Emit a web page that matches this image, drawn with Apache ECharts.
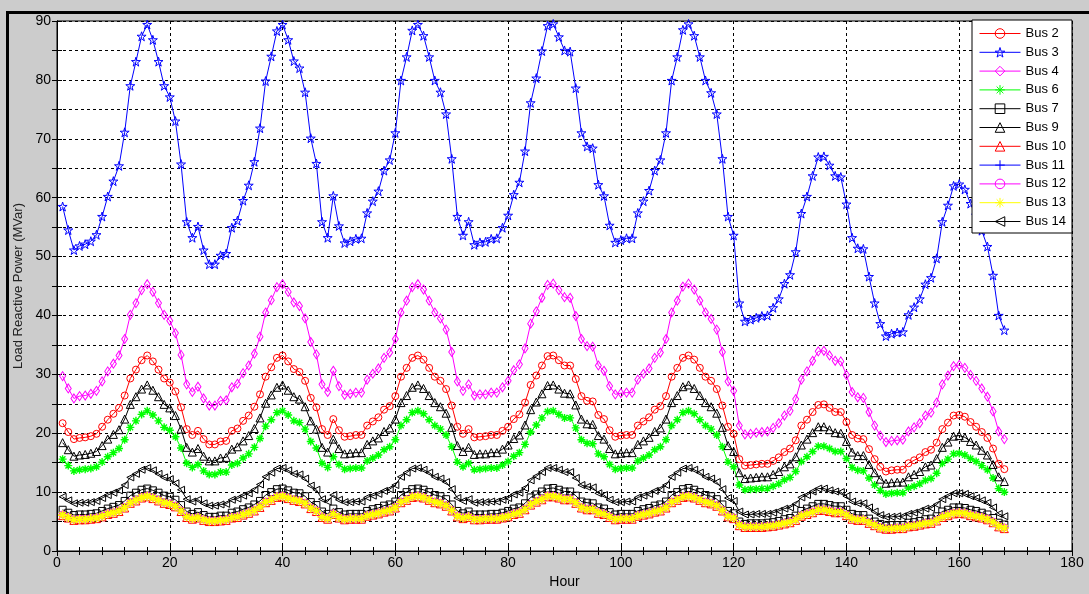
<!DOCTYPE html>
<html>
<head>
<meta charset="utf-8">
<script src="https://cdn.jsdelivr.net/npm/echarts@6/dist/echarts.min.js"></script>
<style>
html,body{margin:0;padding:0;background:#cccccc;}
#chart{width:1089px;height:594px;}
</style>
</head>
<body>
<div id="chart"></div>
<script>
// ---- data (MVar), hourly values for hours 1..168 ----
const xTicks = [0, 20, 40, 60, 80, 100, 120, 140, 160, 180];
const seriesNames = ['Bus 2','Bus 3','Bus 4','Bus 6','Bus 7','Bus 9','Bus 10','Bus 11','Bus 12','Bus 13','Bus 14'];

const bus2 = [
21.7,20.2,19.0,19.2,19.3,19.5,19.9,21.1,22.3,23.3,24.3,26.4,29.3,30.8,32.4,33.2,32.2,30.8,29.3,28.6,27.1,24.4,20.7,19.7,
20.4,19.0,18.1,18.1,18.6,18.7,20.4,20.8,22.1,23.0,24.5,26.6,29.6,31.2,32.8,33.2,32.2,30.9,30.4,28.9,26.0,24.4,20.7,19.7,
22.4,20.5,19.4,19.5,19.7,19.7,21.3,22.0,22.7,24.0,24.6,26.3,29.6,31.1,32.8,33.2,32.5,31.1,29.6,28.9,27.5,24.7,21.1,19.9,
20.7,19.3,19.4,19.5,19.7,19.7,20.4,21.1,22.4,23.2,25.2,28.2,29.8,31.5,33.1,33.2,32.4,31.5,31.5,29.2,26.3,25.5,25.4,23.1,
22.4,20.5,19.4,19.6,19.7,19.7,21.3,22.0,22.7,24.0,24.6,26.3,29.6,31.1,32.8,33.2,32.5,31.1,29.6,28.9,27.5,24.7,21.1,19.9,
15.6,14.5,14.6,14.7,14.8,14.8,15.3,15.9,16.8,17.4,18.8,21.3,22.3,23.6,24.8,24.9,24.3,23.6,23.6,21.9,19.7,19.1,19.0,17.3,
15.6,14.3,13.5,13.7,13.8,13.8,14.9,15.4,15.9,16.8,17.2,18.4,20.7,21.8,23.0,23.1,22.8,21.9,21.1,20.2,19.2,17.4,14.8,13.9];

const bus3 = [
58.5,54.5,51.1,51.8,52.1,52.6,53.7,56.8,60.2,62.8,65.4,71.1,79.0,83.1,87.4,89.4,86.8,83.1,79.0,77.1,73.0,65.7,55.9,53.2,
55.1,51.1,48.7,48.7,50.2,50.5,54.9,56.1,59.5,62.1,66.1,71.8,79.8,84.0,88.3,89.4,86.8,83.2,82.0,77.9,70.1,65.8,55.9,53.2,
60.3,55.2,52.3,52.6,53.0,53.1,57.4,59.4,61.1,64.6,66.4,71.0,79.9,83.9,88.4,89.4,87.5,83.9,79.9,77.9,74.2,66.6,56.8,53.6,
55.9,52.0,52.4,52.5,53.0,53.1,54.9,57.0,60.5,62.6,67.9,76.1,80.3,84.9,89.2,89.5,87.3,85.0,84.8,78.6,71.0,68.7,68.4,62.2,
60.3,55.3,52.4,52.8,53.1,53.1,57.4,59.4,61.2,64.6,66.4,71.0,79.9,83.9,88.5,89.5,87.5,83.9,79.9,77.8,74.2,66.6,56.8,53.6,
42.1,39.0,39.3,39.6,39.9,40.0,41.3,42.8,45.4,46.9,50.8,57.3,60.2,63.7,66.9,67.0,65.5,63.7,63.5,58.9,53.2,51.4,51.3,46.6,
42.1,38.6,36.5,36.9,37.1,37.2,40.1,41.4,42.8,45.3,46.4,49.7,55.9,58.7,62.0,62.3,61.4,59.0,57.0,54.4,51.7,46.8,40.0,37.5];

const bus4 = [
29.7,27.6,25.9,26.3,26.4,26.7,27.2,28.8,30.5,31.8,33.2,36.0,40.1,42.1,44.3,45.3,44.0,42.1,40.1,39.1,37.0,33.3,28.3,27.0,
27.9,25.9,24.7,24.7,25.5,25.6,27.8,28.4,30.2,31.5,33.5,36.4,40.5,42.6,44.8,45.3,44.0,42.2,41.6,39.5,35.5,33.4,28.3,27.0,
30.6,28.0,26.5,26.7,26.9,26.9,29.1,30.1,31.0,32.8,33.7,36.0,40.5,42.5,44.8,45.3,44.4,42.5,40.5,39.5,37.6,33.8,28.8,27.2,
28.3,26.4,26.6,26.6,26.9,26.9,27.8,28.9,30.7,31.7,34.4,38.6,40.7,43.0,45.2,45.4,44.3,43.1,43.0,39.9,36.0,34.8,34.7,31.5,
30.6,28.0,26.6,26.8,26.9,26.9,29.1,30.1,31.0,32.8,33.7,36.0,40.5,42.5,44.9,45.4,44.4,42.5,40.5,39.4,37.6,33.8,28.8,27.2,
21.3,19.8,19.9,20.1,20.2,20.3,20.9,21.7,23.0,23.8,25.8,29.1,30.5,32.3,33.9,34.0,33.2,32.3,32.2,29.9,27.0,26.1,26.0,23.6,
21.3,19.6,18.5,18.7,18.8,18.9,20.3,21.0,21.7,23.0,23.5,25.2,28.3,29.8,31.4,31.6,31.1,29.9,28.9,27.6,26.2,23.7,20.3,19.0];

const bus6 = [
15.6,14.5,13.6,13.8,13.9,14.0,14.3,15.1,16.0,16.7,17.4,18.9,21.0,22.1,23.2,23.8,23.1,22.1,21.0,20.5,19.4,17.5,14.9,14.2,
14.7,13.6,13.0,13.0,13.4,13.4,14.6,14.9,15.8,16.5,17.6,19.1,21.2,22.3,23.5,23.8,23.1,22.1,21.8,20.7,18.6,17.5,14.9,14.2,
16.0,14.7,13.9,14.0,14.1,14.1,15.3,15.8,16.3,17.2,17.7,18.9,21.3,22.3,23.5,23.8,23.3,22.3,21.3,20.7,19.7,17.7,15.1,14.3,
14.9,13.8,13.9,14.0,14.1,14.1,14.6,15.2,16.1,16.7,18.1,20.2,21.4,22.6,23.7,23.8,23.2,22.6,22.6,20.9,18.9,18.3,18.2,16.5,
16.0,14.7,13.9,14.0,14.1,14.1,15.3,15.8,16.3,17.2,17.7,18.9,21.3,22.3,23.5,23.8,23.3,22.3,21.3,20.7,19.7,17.7,15.1,14.3,
11.2,10.4,10.5,10.5,10.6,10.6,11.0,11.4,12.1,12.5,13.5,15.2,16.0,16.9,17.8,17.8,17.4,16.9,16.9,15.7,14.2,13.7,13.6,12.4,
11.2,10.3,9.7,9.8,9.9,9.9,10.7,11.0,11.4,12.0,12.3,13.2,14.9,15.6,16.5,16.6,16.3,15.7,15.2,14.5,13.8,12.4,10.6,10.0];

const bus7 = [
7.0,6.5,6.1,6.2,6.2,6.3,6.4,6.8,7.2,7.5,7.8,8.5,9.4,9.9,10.4,10.6,10.3,9.9,9.4,9.2,8.7,7.8,6.7,6.3,
6.6,6.1,5.8,5.8,6.0,6.0,6.5,6.7,7.1,7.4,7.9,8.5,9.5,10.0,10.5,10.6,10.3,9.9,9.8,9.3,8.3,7.8,6.7,6.3,
7.2,6.6,6.2,6.3,6.3,6.3,6.8,7.1,7.3,7.7,7.9,8.4,9.5,10.0,10.5,10.6,10.4,10.0,9.5,9.3,8.8,7.9,6.8,6.4,
6.7,6.2,6.2,6.2,6.3,6.3,6.5,6.8,7.2,7.4,8.1,9.1,9.6,10.1,10.6,10.7,10.4,10.1,10.1,9.4,8.4,8.2,8.1,7.4,
7.2,6.6,6.2,6.3,6.3,6.3,6.8,7.1,7.3,7.7,7.9,8.4,9.5,10.0,10.5,10.7,10.4,10.0,9.5,9.3,8.8,7.9,6.8,6.4,
5.0,4.6,4.7,4.7,4.7,4.8,4.9,5.1,5.4,5.6,6.0,6.8,7.2,7.6,8.0,8.0,7.8,7.6,7.6,7.0,6.3,6.1,6.1,5.5,
5.0,4.6,4.3,4.4,4.4,4.4,4.8,4.9,5.1,5.4,5.5,5.9,6.7,7.0,7.4,7.4,7.3,7.0,6.8,6.5,6.2,5.6,4.8,4.5];

const bus9 = [
18.4,17.2,16.1,16.3,16.4,16.6,16.9,17.9,19.0,19.8,20.6,22.4,24.9,26.2,27.5,28.2,27.3,26.2,24.9,24.3,23.0,20.7,17.6,16.8,
17.4,16.1,15.3,15.3,15.8,15.9,17.3,17.7,18.7,19.6,20.8,22.6,25.1,26.5,27.8,28.2,27.3,26.2,25.8,24.5,22.1,20.7,17.6,16.8,
19.0,17.4,16.5,16.6,16.7,16.7,18.1,18.7,19.2,20.3,20.9,22.4,25.2,26.4,27.8,28.2,27.6,26.4,25.2,24.5,23.4,21.0,17.9,16.9,
17.6,16.4,16.5,16.5,16.7,16.7,17.3,18.0,19.1,19.7,21.4,24.0,25.3,26.7,28.1,28.2,27.5,26.8,26.7,24.8,22.4,21.6,21.5,19.6,
19.0,17.4,16.5,16.6,16.7,16.7,18.1,18.7,19.3,20.3,20.9,22.4,25.2,26.4,27.9,28.2,27.6,26.4,25.2,24.5,23.4,21.0,17.9,16.9,
13.3,12.3,12.4,12.5,12.6,12.6,13.0,13.5,14.3,14.8,16.0,18.0,19.0,20.1,21.1,21.1,20.6,20.1,20.0,18.6,16.8,16.2,16.2,14.7,
13.3,12.2,11.5,11.6,11.7,11.7,12.6,13.0,13.5,14.3,14.6,15.7,17.6,18.5,19.5,19.6,19.3,18.6,18.0,17.1,16.3,14.7,12.6,11.8];

const bus10 = [
6.0,5.6,5.2,5.3,5.3,5.4,5.5,5.8,6.2,6.4,6.7,7.3,8.1,8.5,9.0,9.2,8.9,8.5,8.1,7.9,7.5,6.7,5.7,5.4,
5.6,5.2,5.0,5.0,5.1,5.2,5.6,5.7,6.1,6.4,6.8,7.4,8.2,8.6,9.1,9.2,8.9,8.6,8.4,8.0,7.2,6.7,5.7,5.4,
6.2,5.6,5.3,5.4,5.4,5.4,5.9,6.1,6.3,6.6,6.8,7.3,8.2,8.6,9.1,9.2,9.0,8.6,8.2,8.0,7.6,6.8,5.8,5.5,
5.7,5.3,5.3,5.4,5.4,5.4,5.6,5.8,6.2,6.4,7.0,7.8,8.3,8.7,9.2,9.2,9.0,8.7,8.7,8.1,7.3,7.0,7.0,6.4,
6.2,5.7,5.3,5.4,5.4,5.4,5.9,6.1,6.3,6.6,6.8,7.3,8.2,8.6,9.1,9.2,9.0,8.6,8.2,8.0,7.6,6.8,5.8,5.5,
4.3,4.0,4.0,4.0,4.0,4.1,4.2,4.4,4.6,4.8,5.2,5.9,6.2,6.5,6.9,6.9,6.7,6.5,6.5,6.0,5.4,5.2,5.2,4.7,
4.3,3.9,3.7,3.7,3.8,3.8,4.1,4.2,4.4,4.6,4.7,5.1,5.7,6.0,6.3,6.4,6.3,6.0,5.8,5.6,5.3,4.8,4.1,3.8];

const bus11 = [
6.1,5.7,5.3,5.4,5.4,5.5,5.6,5.9,6.3,6.5,6.8,7.4,8.2,8.6,9.1,9.3,9.0,8.6,8.2,8.0,7.6,6.8,5.8,5.5,
5.7,5.3,5.1,5.1,5.2,5.3,5.7,5.8,6.2,6.5,6.9,7.5,8.3,8.7,9.2,9.3,9.0,8.7,8.5,8.1,7.3,6.8,5.8,5.5,
6.3,5.7,5.4,5.5,5.5,5.5,6.0,6.2,6.4,6.7,6.9,7.4,8.3,8.7,9.2,9.3,9.1,8.7,8.3,8.1,7.7,6.9,5.9,5.6,
5.8,5.4,5.4,5.5,5.5,5.5,5.7,5.9,6.3,6.5,7.1,7.9,8.4,8.8,9.3,9.3,9.1,8.8,8.8,8.2,7.4,7.1,7.1,6.5,
6.3,5.8,5.4,5.5,5.5,5.5,6.0,6.2,6.4,6.7,6.9,7.4,8.3,8.7,9.2,9.3,9.1,8.7,8.3,8.1,7.7,6.9,5.9,5.6,
4.4,4.1,4.1,4.1,4.1,4.2,4.3,4.5,4.7,4.9,5.3,6.0,6.3,6.6,7.0,7.0,6.8,6.6,6.6,6.1,5.5,5.3,5.3,4.8,
4.4,4.0,3.8,3.8,3.9,3.9,4.2,4.3,4.5,4.7,4.8,5.2,5.8,6.1,6.4,6.5,6.4,6.1,5.9,5.7,5.4,4.9,4.2,3.9];

const bus12 = [
6.2,5.8,5.4,5.5,5.5,5.6,5.7,6.0,6.4,6.6,6.9,7.5,8.3,8.7,9.2,9.4,9.1,8.7,8.3,8.1,7.7,6.9,5.9,5.6,
5.8,5.4,5.2,5.2,5.3,5.4,5.8,5.9,6.3,6.6,7.0,7.6,8.4,8.8,9.3,9.4,9.1,8.8,8.6,8.2,7.4,6.9,5.9,5.6,
6.4,5.8,5.5,5.6,5.6,5.6,6.1,6.3,6.5,6.8,7.0,7.5,8.4,8.8,9.3,9.4,9.2,8.8,8.4,8.2,7.8,7.0,6.0,5.7,
5.9,5.5,5.5,5.6,5.6,5.6,5.8,6.0,6.4,6.6,7.2,8.0,8.5,8.9,9.4,9.4,9.2,8.9,8.9,8.3,7.5,7.2,7.2,6.6,
6.4,5.9,5.5,5.6,5.6,5.6,6.1,6.3,6.5,6.8,7.0,7.5,8.4,8.8,9.3,9.4,9.2,8.8,8.4,8.2,7.8,7.0,6.0,5.7,
4.5,4.2,4.2,4.2,4.2,4.3,4.4,4.6,4.8,5.0,5.4,6.1,6.4,6.7,7.1,7.1,6.9,6.7,6.7,6.2,5.6,5.4,5.4,4.9,
4.5,4.1,3.9,3.9,4.0,4.0,4.3,4.4,4.6,4.8,4.9,5.3,5.9,6.2,6.5,6.6,6.5,6.2,6.0,5.8,5.5,5.0,4.3,4.0];

const bus13 = [
6.1,5.7,5.3,5.4,5.4,5.5,5.6,5.9,6.3,6.5,6.8,7.4,8.2,8.6,9.1,9.3,9.0,8.6,8.2,8.0,7.6,6.8,5.8,5.5,
5.7,5.3,5.1,5.1,5.2,5.3,5.7,5.8,6.2,6.5,6.9,7.5,8.3,8.7,9.2,9.3,9.0,8.7,8.5,8.1,7.3,6.8,5.8,5.5,
6.3,5.7,5.4,5.5,5.5,5.5,6.0,6.2,6.4,6.7,6.9,7.4,8.3,8.7,9.2,9.3,9.1,8.7,8.3,8.1,7.7,6.9,5.9,5.6,
5.8,5.4,5.4,5.5,5.5,5.5,5.7,5.9,6.3,6.5,7.1,7.9,8.4,8.8,9.3,9.3,9.1,8.8,8.8,8.2,7.4,7.1,7.1,6.5,
6.3,5.8,5.4,5.5,5.5,5.5,6.0,6.2,6.4,6.7,6.9,7.4,8.3,8.7,9.2,9.3,9.1,8.7,8.3,8.1,7.7,6.9,5.9,5.6,
4.4,4.1,4.1,4.1,4.1,4.2,4.3,4.5,4.7,4.9,5.3,6.0,6.3,6.6,7.0,7.0,6.8,6.6,6.6,6.1,5.5,5.3,5.3,4.8,
4.4,4.0,3.8,3.8,3.9,3.9,4.2,4.3,4.5,4.7,4.8,5.2,5.8,6.1,6.4,6.5,6.4,6.1,5.9,5.7,5.4,4.9,4.2,3.9];

const bus14 = [
9.2,8.6,8.1,8.2,8.2,8.3,8.5,9.0,9.5,9.9,10.3,11.2,12.5,13.1,13.8,14.1,13.7,13.1,12.5,12.2,11.5,10.4,8.8,8.4,
8.7,8.1,7.7,7.7,7.9,8.0,8.7,8.9,9.4,9.8,10.4,11.3,12.6,13.3,14.0,14.1,13.7,13.1,13.0,12.3,11.1,10.4,8.8,8.4,
9.5,8.7,8.3,8.3,8.4,8.4,9.1,9.4,9.7,10.2,10.5,11.2,12.6,13.3,14.0,14.1,13.8,13.3,12.6,12.3,11.7,10.5,9.0,8.5,
8.8,8.2,8.3,8.3,8.4,8.4,8.7,9.0,9.6,9.9,10.7,12.0,12.7,13.4,14.1,14.1,13.8,13.4,13.4,12.4,11.2,10.9,10.8,9.8,
9.5,8.7,8.3,8.3,8.4,8.4,9.1,9.4,9.7,10.2,10.5,11.2,12.6,13.3,14.0,14.1,13.8,13.3,12.6,12.3,11.7,10.5,9.0,8.5,
6.7,6.2,6.2,6.3,6.3,6.3,6.5,6.8,7.2,7.4,8.0,9.1,9.5,10.1,10.6,10.6,10.3,10.1,10.0,9.3,8.4,8.1,8.1,7.4,
6.7,6.1,5.8,5.8,5.9,5.9,6.3,6.5,6.8,7.2,7.3,7.9,8.8,9.3,9.8,9.8,9.7,9.3,9.0,8.6,8.2,7.4,6.3,5.9];

// ---- presentation ----
const SYM = {
  star: 'path://M50,0L61.2,34.5L97.6,34.5L68.2,55.9L79.4,90.5L50,69.1L20.6,90.5L31.8,55.9L2.4,34.5L38.8,34.5Z',
  asterisk: 'path://M5,0L5,10M0,5L10,5M1.5,1.5L8.5,8.5M8.5,1.5L1.5,8.5',
  plus: 'path://M5,0L5,10M0,5L10,5',
  triLeft: 'path://M0,5L10,0L10,10Z'
};
const styles = [
  {d: bus2,  c: '#ff0000', s: 'circle',      z: 7,     w: 1},
  {d: bus3,  c: '#0000ff', s: SYM.star,      z: 9,     w: 1},
  {d: bus4,  c: '#ff00ff', s: 'diamond',     z: [6,9], w: 1},
  {d: bus6,  c: '#00ff00', s: SYM.asterisk,  z: 8,     w: 1.4},
  {d: bus7,  c: '#000000', s: 'rect',        z: 7,     w: 1},
  {d: bus9,  c: '#000000', s: 'triangle',    z: 8,     w: 1},
  {d: bus10, c: '#ff0000', s: 'triangle',    z: 8,     w: 1},
  {d: bus11, c: '#0000ff', s: SYM.plus,      z: 8,     w: 1},
  {d: bus12, c: '#ff00ff', s: 'circle',      z: 7,     w: 1},
  {d: bus13, c: '#ffff00', s: SYM.asterisk,  z: 9,     w: 1.6},
  {d: bus14, c: '#000000', s: SYM.triLeft,   z: 7,     w: 1}
];
const CLEAR = 'rgba(255,255,255,0)';

const series = styles.map((st, i) => ({
  name: seriesNames[i],
  type: 'line',
  data: st.d.map((v, k) => [k + 1, v]),
  symbol: st.s,
  symbolSize: st.z,
  showSymbol: true,
  clip: true,
  lineStyle: {color: st.c, width: 1},
  itemStyle: {color: CLEAR, borderColor: st.c, borderWidth: st.w},
  emphasis: {disabled: true},
  animation: false
}));

const legendData = styles.map((st, i) => ({
  name: seriesNames[i],
  itemStyle: {color: CLEAR, borderColor: st.c, borderWidth: 1},
  lineStyle: {color: st.c, width: 1}
}));

const FONT = 'Liberation Sans, Arial, sans-serif';
const chart = echarts.init(document.getElementById('chart'), null, {renderer: 'canvas'});
chart.setOption({
  backgroundColor: '#cccccc',
  animation: false,
  graphic: [{
    type: 'rect', left: 5, top: 10, silent: true, z: -10,
    shape: {width: 1200, height: 700},
    style: {fill: 'none', stroke: '#000', lineWidth: 3}
  }],
  grid: {left: 57, top: 21, right: 17, bottom: 36, show: true,
         backgroundColor: '#ffffff', borderColor: '#000', borderWidth: 1},
  legend: {
    orient: 'vertical', left: 972, top: 20,
    backgroundColor: '#ffffff', borderColor: '#000', borderWidth: 1,
    padding: [7, 6, 5, 7],
    itemWidth: 41, itemHeight: 12, itemGap: 5.8,
    textStyle: {fontFamily: FONT, fontSize: 13, color: '#000'},
    data: legendData
  },
  xAxis: [{
    type: 'value', min: 0, max: 180, interval: 20,
    name: 'Hour', nameLocation: 'middle', nameGap: 24,
    nameTextStyle: {fontFamily: FONT, fontSize: 14, color: '#000'},
    axisLine: {show: true, lineStyle: {color: '#000'}},
    axisTick: {show: true, inside: true, length: 5, lineStyle: {color: '#000'}},
    minorTick: {show: true, splitNumber: 5, length: 4, lineStyle: {color: '#000'}},
    axisLabel: {fontFamily: FONT, fontSize: 14, color: '#000', margin: 5},
    splitLine: {show: true, lineStyle: {color: '#000', type: [3, 3], width: 1}}
  }, {
    type: 'value', min: 0, max: 180, interval: 20, position: 'top',
    axisLine: {show: true, lineStyle: {color: '#000'}},
    axisTick: {show: true, inside: true, length: 5, lineStyle: {color: '#000'}},
    minorTick: {show: true, splitNumber: 5, length: 4, lineStyle: {color: '#000'}},
    axisLabel: {show: false}, splitLine: {show: false}
  }],
  yAxis: [{
    type: 'value', min: 0, max: 90, interval: 5,
    name: 'Load Reactive Power (MVar)', nameLocation: 'middle', nameGap: 24, nameRotate: 90,
    nameTextStyle: {fontFamily: FONT, fontSize: 13, color: '#222'},
    axisLine: {show: true, lineStyle: {color: '#000'}},
    axisTick: {show: true, inside: true, length: 5, lineStyle: {color: '#000'}},
    axisLabel: {fontFamily: FONT, fontSize: 14, color: '#000', margin: 6,
                formatter: v => (v % 10 === 0 ? String(v) : '')},
    splitLine: {show: true, lineStyle: {color: '#000', type: [3, 3], width: 1}}
  }, {
    type: 'value', min: 0, max: 90, interval: 5, position: 'right',
    axisLine: {show: true, lineStyle: {color: '#000'}},
    axisTick: {show: true, inside: true, length: 5, lineStyle: {color: '#000'}},
    axisLabel: {show: false}, splitLine: {show: false}
  }],
  series: series
});
</script>
</body>
</html>
